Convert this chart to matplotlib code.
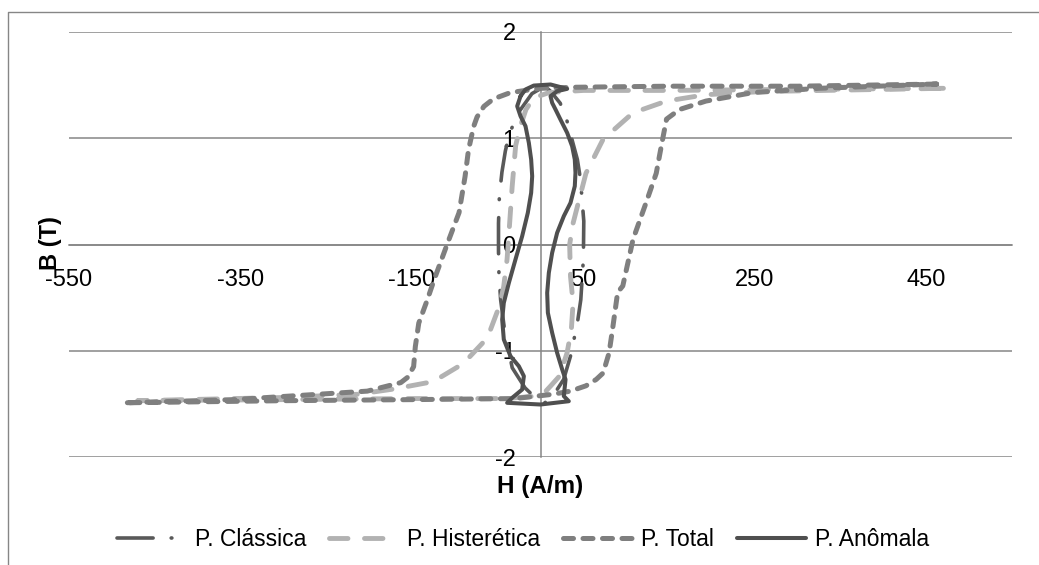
import matplotlib
matplotlib.use("Agg")
import matplotlib.pyplot as plt
from matplotlib.lines import Line2D

plt.rcParams["font.family"] = ["Liberation Sans", "DejaVu Sans"]
plt.rcParams["axes.unicode_minus"] = False

GRID = "#868686"
INK = "#000000"

# ---- data: H (A/m) and B (T) per loop ----
classica_h = [5, -10, -25, -36, -41, -45, -48, -49, -49, -48.5, -46.5, -42, -33, -18,
              -5, 5, 15, 27, 35, 43, 47, 50, 50.5, 48.6, 46.7, 43, 31, 23, 12, 5]
classica_b = [1.49, 1.42, 1.25, 1.05, 0.88, 0.68, 0.45, 0.2, -0.06, -0.27, -0.52, -0.8,
              -1.16, -1.35, -1.45, -1.49, -1.42, -1.27, -1.05, -0.74, -0.52, -0.14, 0.22,
              0.41, 0.61, 0.8, 1.16, 1.33, 1.44, 1.49]

hister_h = [470, 300, 150, 50, 10, -8, -17, -24, -29, -33, -36, -39, -43, -48, -62, -90,
            -125, -171, -214, -300, -470,
            -300, -150, -40, -10, 4, 12, 22, 31, 36, 38, 35, 34, 38, 45, 53, 73, 108,
            147, 193, 260, 470]
hister_b = [1.47, 1.46, 1.45, 1.45, 1.43, 1.38, 1.27, 1.1, 0.93, 0.55, 0.2, -0.14, -0.4,
            -0.58, -0.88, -1.12, -1.29, -1.36, -1.41, -1.44, -1.47,
            -1.46, -1.45, -1.45, -1.43, -1.40, -1.33, -1.24, -1.02, -0.8, -0.55, -0.3,
            0.0, 0.2, 0.42, 0.67, 0.99, 1.24, 1.35, 1.41, 1.44, 1.47]

total_h = [462, 300, 150, 40, 0, -35, -55, -66, -74, -78, -84, -88, -95, -109, -124,
           -132, -142, -146, -148, -155, -163, -202, -260, -358, -486,
           -300, -150, -30, 14, 35, 53, 65, 73, 80, 84, 90, 96, 108, 123, 135, 141, 147,
           162, 193, 248, 325, 462]
total_b = [1.51, 1.49, 1.49, 1.48, 1.47, 1.43, 1.37, 1.30, 1.2, 1.11, 0.89, 0.64, 0.30,
           0.0, -0.33, -0.52, -0.74, -0.96, -1.15, -1.25, -1.30, -1.38, -1.41, -1.46, -1.49,
           -1.47, -1.46, -1.45, -1.41, -1.38, -1.33, -1.27, -1.21, -1.02, -0.80, -0.45,
           -0.39, 0.05, 0.39, 0.67, 0.93, 1.18, 1.27, 1.35, 1.43, 1.47, 1.51]

anomala_h = [-23.3, -27.2, -23.3, -17.5, -13.6, -10.9, -9.7, -10.9, -14.8, -21.4, -29.2,
             -36.9, -42.8, -44.7, -42.8, -35.0, -25.3, -19.4, -21.4, -33.0, -38.9, 0.0,
             33.0, 27.2, 29.2, 25.3, 19.4, 13.6, 8.6, 7.8, 9.7, 13.6, 19.4, 27.2, 35.0,
             40.0, 40.8, 40.0, 36.9, 31.1, 23.3, 17.5, 13.6, 11.7, 19.4, 31.1, 11.7, -7.8,
             -17.5, -23.3]
anomala_b = [1.396, 1.302, 1.208, 1.114, 0.957, 0.800, 0.643, 0.486, 0.298, 0.078, -0.141,
             -0.361, -0.549, -0.706, -0.894, -1.051, -1.145, -1.239, -1.365, -1.443, -1.490,
             -1.506, -1.475, -1.427, -1.271, -1.176, -1.020, -0.831, -0.643, -0.455, -0.267,
             -0.078, 0.110, 0.267, 0.392, 0.549, 0.675, 0.800, 0.925, 1.051, 1.176, 1.271,
             1.333, 1.396, 1.443, 1.465, 1.506, 1.496, 1.459, 1.396]

x_ticks = [-550, -350, -150, 50, 250, 450]
y_ticks = [-2, -1, 0, 1, 2]

SERIES = [
    ("P. Clássica", classica_h, classica_b,
     dict(color="#595959", linewidth=2.6, dashes=(10, 5, 0.2, 5))),
    ("P. Histerética", hister_h, hister_b,
     dict(color="#b2b2b2", linewidth=3.5, dashes=(3.8, 3.4))),
    ("P. Total", total_h, total_b,
     dict(color="#7f7f7f", linewidth=3.6, dashes=(2.0, 1.9))),
    ("P. Anômala", anomala_h, anomala_b,
     dict(color="#4f4f4f", linewidth=2.9)),
]

fig = plt.figure(figsize=(10.39, 5.65), dpi=100)
fig.patch.set_facecolor("white")
ax = fig.add_axes([69 / 1039, 108 / 565, 943 / 1039, 425 / 565])

handles = []
for label, hs, bs, st in SERIES:
    ln, = ax.plot(hs, bs, label=label, solid_capstyle="round",
                  dash_capstyle="round", solid_joinstyle="round",
                  dash_joinstyle="round", **st)
    handles.append(ln)

ax.set_xlim(-550, 550)
ax.set_ylim(-2, 2)
ax.set_xticks(x_ticks)
ax.set_yticks(y_ticks)
ax.yaxis.grid(True, color=GRID, linewidth=1.1)
ax.set_axisbelow(True)

for side in ("top", "right"):
    ax.spines[side].set_visible(False)
ax.spines["left"].set_position(("data", 0))
ax.spines["bottom"].set_position(("data", 0))
for side in ("left", "bottom"):
    ax.spines[side].set_color(GRID)
    ax.spines[side].set_linewidth(1.1)
    ax.spines[side].set_zorder(0.5)
ax.tick_params(axis="x", length=0, pad=18, labelsize=17, colors=INK)
ax.tick_params(axis="y", length=0, pad=18, labelsize=17, colors=INK)

fig.text(50 / 1039, 1 - 243 / 565, "B (T)", rotation=90, ha="center", va="center",
         fontsize=17, fontweight="bold", color=INK)
fig.text(540 / 1039, 1 - 486 / 565, "H (A/m)", ha="center", va="center",
         fontsize=17.5, fontweight="bold", color=INK)

fig.legend(handles=handles, loc="center", bbox_to_anchor=(523 / 1039, 1 - 540 / 565),
           ncol=4, frameon=False, fontsize=16.5, handlelength=3.0,
           handletextpad=0.4, columnspacing=1.0)

# chart frame (Excel chart area border)
fig.add_artist(Line2D([8 / 1039, 8 / 1039, 1.0], [0.0, 1 - 12 / 565, 1 - 12 / 565],
                      color=GRID, linewidth=1.0))

fig.savefig("out.png", dpi=100, facecolor="white")
